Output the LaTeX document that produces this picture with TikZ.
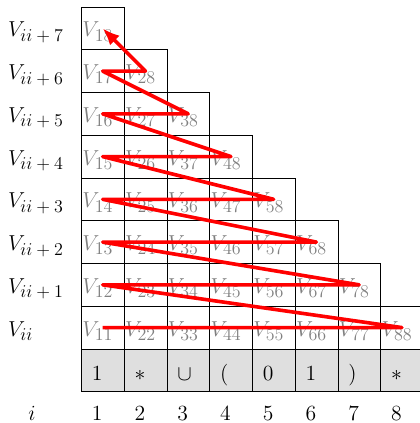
\RequirePackage{fix-cm}
\documentclass[tikz,border=0pt]{standalone}
\usetikzlibrary{arrows.meta,calc}
\DeclareMathSizes{14.4}{14.4}{12}{9}

\begin{document}
\begin{tikzpicture}[
    cell/.style={draw, minimum size=1cm, inner sep=0pt, outer sep=0pt},
    inp/.style={cell, fill=gray!25},
    vtxt/.style={anchor=base west, inner sep=0pt, text=gray, font=\Large},
    sym/.style={anchor=base west, inner sep=0pt, font=\Large},
    walk/.style={draw=red, line width=2.4pt, line join=round,
      -{Latex[length=4mm,width=3.2mm]}}
  ]
    \useasboundingbox (-1.902,-0.732) rectangle (7.923,9.163);
    % triangle of V cells, row r holds V_{c,c+r-1}
    \foreach \r in {1,...,8}{
      \pgfmathtruncatemacro{\last}{9-\r}
      \foreach \c in {1,...,\last}{
        \pgfmathtruncatemacro{\j}{\c+\r-1}
        \node[cell] (v\c\j) at (\c-0.5,\r+0.5) {};
        \node[vtxt] (t\c\j) at ($(v\c\j.south west)+(0.02,0.3)$) {$V_{\c\j}$};
      }
    }
    % row labels
    \node[sym] (lab1) at (-1.72,1.3) {$V_{ii}$};
    \foreach \r in {2,...,8}{
      \pgfmathtruncatemacro{\k}{\r-1}
      \node[sym] (lab\r) at (-1.72,\r+0.3) {$V_{ii\mskip4mu+\mskip4mu\k}$};
    }
    % input string
    \foreach \c/\s in {1/{$1$}, 2/{$*$}, 3/{$\cup$}, 4/{$($}, 5/{$0$}, 6/{$1$}, 7/{$)$}, 8/{$*$}}{
      \node[inp] (in\c) at (\c-0.5,0.5) {};
      \node[sym] (s\c) at ($(in\c.south west)+(0.24,0.26)$) {\s};
    }
    % positions
    \node[sym, anchor=base] (ilab) at (-1.153,-0.68) {$i$};
    \foreach \c in {1,...,8}{
      \node[sym] (pos\c) at (\c-0.76,-0.68) {$\c$};
    }
    % order of filling
    \draw[walk] (v11.center) -- (v88.center) -- (v12.center) -- (v78.center)
      -- (v13.center) -- (v68.center) -- (v14.center) -- (v58.center)
      -- (v15.center) -- (v48.center) -- (v16.center) -- (v38.center)
      -- (v17.center) -- (v28.center) -- (v18.center);
\end{tikzpicture}
\end{document}
